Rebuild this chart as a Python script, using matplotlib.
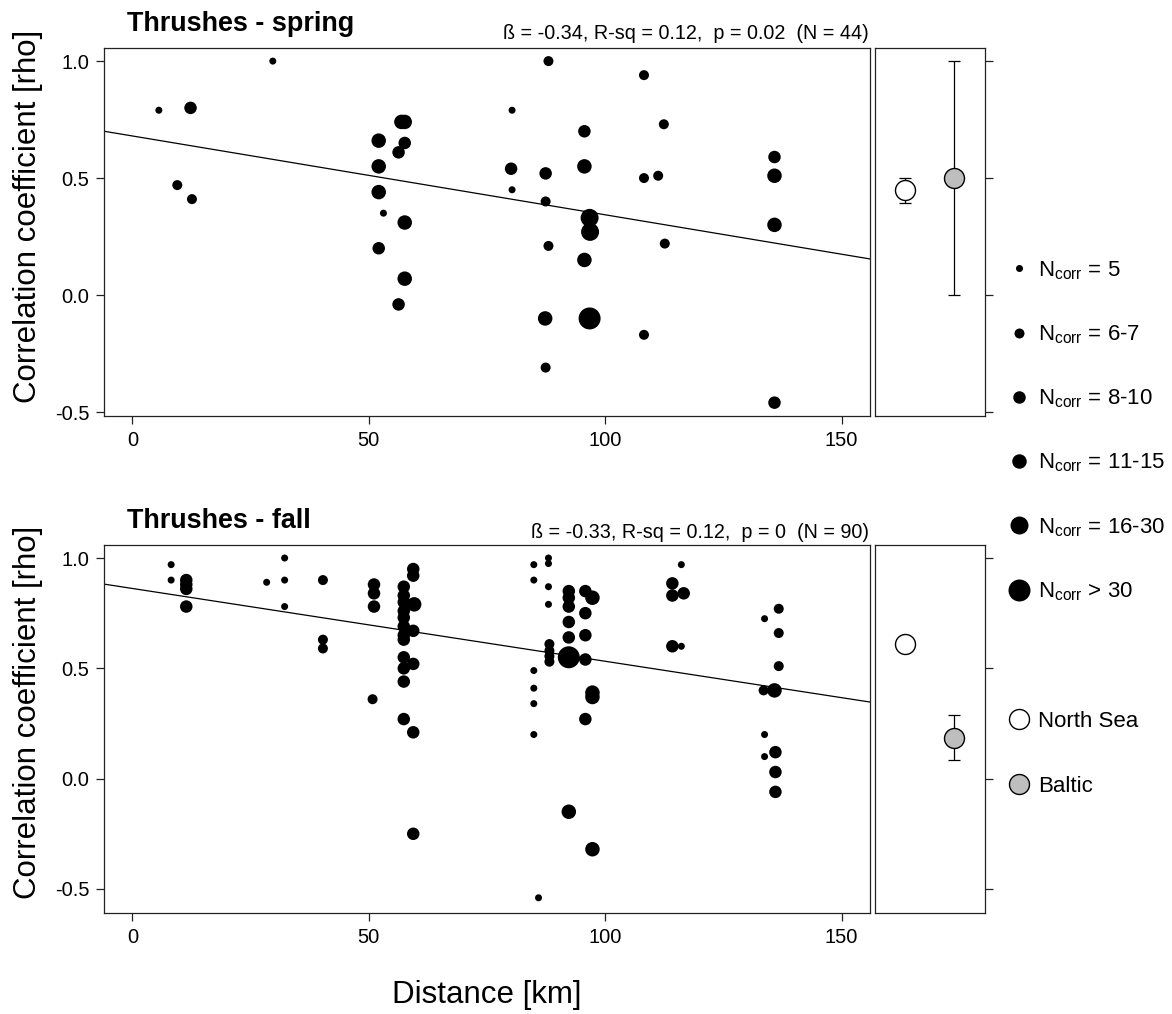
import matplotlib
matplotlib.use("Agg")
import matplotlib.pyplot as plt
from matplotlib.lines import Line2D
import numpy as np

plt.rcParams['font.family'] = ['Liberation Sans', 'DejaVu Sans']
plt.rcParams['mathtext.fontset'] = 'custom'
plt.rcParams['mathtext.rm'] = 'Liberation Sans'
plt.rcParams['mathtext.it'] = 'Liberation Sans:italic'
plt.rcParams['mathtext.bf'] = 'Liberation Sans:bold'

# ---- data -------------------------------------------------------------
size_labels = ['= 5', '= 6-7', '= 8-10', '= 11-15', '= 16-30', '> 30']
size_class_diam_px = [7, 10, 12.5, 14.5, 18, 22]

spring_dist = [5.6, 12.3, 29.7, 9.5, 12.6, 52.1, 52.1, 52.1, 53.1, 52.1,
               56.3, 56.3, 56.9, 57.6, 57.6, 57.6, 57.6, 88.0, 80.3, 95.6,
               80.1, 87.4, 95.6, 80.3, 87.4, 96.7, 96.8, 88.0, 95.6, 87.3,
               96.7, 87.4, 108.2, 112.4, 108.2, 111.2, 112.6, 108.2, 135.8, 135.8,
               135.8, 135.8]
spring_rho = [0.79, 0.80, 1.00, 0.47, 0.41, 0.66, 0.55, 0.44, 0.35, 0.20,
              0.61, -0.04, 0.74, 0.74, 0.65, 0.31, 0.07, 1.00, 0.79, 0.70,
              0.54, 0.52, 0.55, 0.45, 0.40, 0.33, 0.27, 0.21, 0.15, -0.10,
              -0.10, -0.31, 0.94, 0.73, 0.50, 0.51, 0.22, -0.17, 0.59, 0.51,
              0.30, -0.46]
spring_ncls = [0, 2, 0, 1, 1, 3, 3, 3, 0, 2,
               2, 2, 3, 3, 2, 3, 3, 1, 0, 2,
               2, 2, 3, 0, 1, 4, 4, 1, 3, 3,
               5, 1, 1, 1, 1, 1, 1, 1, 2, 3,
               3, 2]

fall_dist = [8.2, 8.2,
             11.4, 11.4, 11.4, 11.4,
             28.4,
             32.2, 32.2, 32.2,
             40.3, 40.3, 40.3,
             51.1, 51.1, 51.1, 50.8,
             57.4, 57.4, 57.4, 57.4, 57.4, 57.4, 57.4, 57.4, 57.4, 57.4, 57.4, 57.4,
             59.4, 59.4, 59.6, 59.4, 59.4, 59.4, 59.4,
             84.9, 84.9, 84.9, 84.9, 84.9, 84.9, 85.9,
             88.0, 88.0, 88.0, 88.0,
             88.2, 88.2, 88.2, 88.2,
             92.3, 92.3, 92.3, 92.3, 92.3, 92.3, 92.3,
             95.8, 95.8, 95.8, 95.8, 95.8,
             97.3, 97.3, 97.3, 97.3,
             114.2, 114.2, 114.2, 116.6, 116.1, 116.1,
             133.7, 133.7, 133.7, 133.5, 135.8,
             136.7, 136.7, 136.7, 136.0, 136.0, 136.0]
fall_rho = [0.97, 0.90,
            0.90, 0.88, 0.86, 0.78,
            0.89,
            1.00, 0.90, 0.78,
            0.90, 0.63, 0.59,
            0.88, 0.84, 0.78, 0.36,
            0.87, 0.83, 0.80, 0.76, 0.73, 0.69, 0.65, 0.63, 0.55, 0.50, 0.44, 0.27,
            0.95, 0.92, 0.79, 0.67, 0.52, 0.21, -0.25,
            0.97, 0.90, 0.49, 0.41, 0.34, 0.20, -0.54,
            1.00, 0.975, 0.87, 0.79,
            0.61, 0.58, 0.555, 0.53,
            0.85, 0.82, 0.78, 0.71, 0.64, 0.55, -0.15,
            0.85, 0.75, 0.65, 0.54, 0.27,
            0.82, 0.39, 0.37, -0.32,
            0.885, 0.83, 0.60, 0.84, 0.97, 0.60,
            0.725, 0.20, 0.10, 0.40, 0.40,
            0.77, 0.66, 0.51, 0.12, 0.03, -0.06]
fall_ncls = [0, 0,
             2, 2, 2, 2,
             0,
             0, 0, 0,
             1, 1, 1,
             2, 2, 2, 1,
             2, 2, 2, 2, 2, 2, 2, 2, 2, 2, 2, 2,
             2, 2, 3, 2, 2, 2, 2,
             0, 0, 0, 0, 0, 0, 0,
             0, 0, 0, 0,
             1, 1, 1, 1,
             2, 2, 2, 2, 2, 5, 3,
             2, 2, 2, 2, 2,
             3, 3, 3, 3,
             2, 2, 2, 2, 0, 0,
             0, 0, 0, 1, 3,
             1, 1, 1, 2, 2, 2]

# regression lines (intercept, slope)
spring_fit = (0.680, -0.00337)
fall_fit = (0.862, -0.0033)
spring_stats = "ß = -0.34, R-sq = 0.12,  p = 0.02  (N = 44)"
fall_stats = "ß = -0.33, R-sq = 0.12,  p = 0  (N = 90)"

# regional means with error bars
regions = ['North Sea', 'Baltic']
region_pos = [1, 2]
region_fill = ['white', '#BEBEBE']
spring_mean = [0.447, 0.50]
spring_lo = [0.394, 0.0]
spring_hi = [0.499, 1.0]
fall_mean = [0.611, 0.186]
fall_lo = [0.611, 0.083]
fall_hi = [0.611, 0.290]

# ---- figure -------------------------------------------------------------
W, H = 1172, 1014
DPI = 100
fig = plt.figure(figsize=(W / DPI, H / DPI), dpi=DPI)


def fbox(x0, y0, x1, y1):
    return [x0 / W, 1 - y1 / H, (x1 - x0) / W, (y1 - y0) / H]


PX2PT = 72.0 / DPI
LW = 0.9
LABEL_FS = 22.5


def style_box(ax):
    for s in ax.spines.values():
        s.set_linewidth(LW)
        s.set_color('#222222')
    ax.tick_params(direction='out', length=5.5, width=LW, colors='#222222',
                   labelcolor='black', labelsize=14.5, pad=5)


def main_panel(rect, dist, rho, ncls, fit, ylim, title, stats, ttl_y, st_y,
               ylab_y):
    ax = fig.add_axes(fbox(*rect))
    d = np.asarray(dist)
    r = np.asarray(rho)
    c = np.asarray(ncls)
    sizes = (np.asarray(size_class_diam_px)[c] * PX2PT) ** 2
    ax.scatter(d, r, s=sizes, c='black', linewidths=0, zorder=3)
    ax.axline((0, fit[0]), slope=fit[1], color='black', lw=0.9, zorder=2)
    ax.set_xlim(-6, 156)
    ax.set_ylim(*ylim)
    ax.set_xticks([0, 50, 100, 150])
    ax.set_yticks([-0.5, 0.0, 0.5, 1.0])
    ax.set_yticklabels(['-0.5', '0.0', '0.5', '1.0'])
    style_box(ax)
    fig.text(127 / W, 1 - ttl_y / H, title, fontsize=19.4, fontweight='bold',
             ha='left', va='baseline')
    fig.text(869 / W, 1 - st_y / H, stats, fontsize=14.2, ha='right',
             va='baseline')
    fig.text(28 / W, 1 - ylab_y / H, 'Correlation coefficient [rho]',
             fontsize=LABEL_FS, rotation=90, ha='center', va='center')
    return ax


def region_panel(rect, mean, lo, hi, ylim):
    ax = fig.add_axes(fbox(*rect))
    for x, m, l, h, fc in zip(region_pos, mean, lo, hi, region_fill):
        if h > l:
            ax.errorbar([x], [m], yerr=[[m - l], [h - m]], fmt='none',
                        ecolor='black', elinewidth=0.9, capsize=4.2,
                        capthick=0.9, zorder=2)
        ax.plot([x], [m], marker='o', ls='', markersize=20 * PX2PT,
                markerfacecolor=fc, markeredgecolor='black',
                markeredgewidth=1.0, zorder=3)
    ax.set_xlim(0.39, 2.63)
    ax.set_ylim(*ylim)
    ax.set_xticks([])
    ax.yaxis.tick_right()
    ax.set_yticks([-0.5, 0.0, 0.5, 1.0])
    ax.set_yticklabels([])
    style_box(ax)
    return ax


ylim_spring = (-0.517, 1.056)
ylim_fall = (-0.609, 1.059)

main_panel((104, 48, 870, 416), spring_dist, spring_rho, spring_ncls,
           spring_fit, ylim_spring, 'Thrushes - spring', spring_stats, 31, 39,
           216)
region_panel((875, 48, 985, 416), spring_mean, spring_lo, spring_hi,
             ylim_spring)

main_panel((104, 545, 870, 913), fall_dist, fall_rho, fall_ncls,
           fall_fit, ylim_fall, 'Thrushes - fall', fall_stats, 528, 538, 712)
fig.text(487 / W, 1 - 995 / H, 'Distance [km]', fontsize=LABEL_FS,
         ha='center', va='center')
region_panel((875, 545, 985, 913), fall_mean, fall_lo, fall_hi, ylim_fall)

# ---- legends ------------------------------------------------------------
size_handles = [Line2D([], [], marker='o', ls='', color='black',
                       markeredgewidth=0, markersize=dd * PX2PT)
                for dd in size_class_diam_px]
size_texts = [r'N$_{\mathregular{corr}}$ ' + lab for lab in size_labels]
leg1 = fig.legend(size_handles, size_texts, loc='upper left',
                  bbox_to_anchor=(1008 / W, 1 - 259 / H), frameon=False,
                  fontsize=16, handlelength=1.0, handletextpad=0.35,
                  borderpad=0, borderaxespad=0, labelspacing=1.876)

reg_handles = [Line2D([], [], marker='o', ls='', markerfacecolor=fc,
                      markeredgecolor='black', markeredgewidth=1.0,
                      markersize=20 * PX2PT)
               for fc in region_fill]
leg2 = fig.legend(reg_handles, regions, loc='upper left',
                  bbox_to_anchor=(1008 / W, 1 - 711 / H), frameon=False,
                  fontsize=16, handlelength=1.0, handletextpad=0.35,
                  borderpad=0, borderaxespad=0, labelspacing=1.975)

fig.savefig('out.png', dpi=DPI)
